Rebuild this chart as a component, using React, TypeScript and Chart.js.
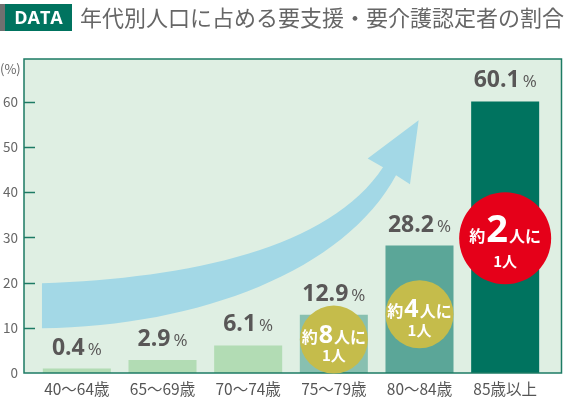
import React, { useEffect, useRef } from 'react';
import { Chart, registerables } from 'chart.js';
Chart.register(...registerables);

const titleTag = 'DATA';
const titleText = '年代別人口に占める要支援・要介護認定者の割合';
const categories = ['40〜64歳', '65〜69歳', '70〜74歳', '75〜79歳', '80〜84歳', '85歳以上'];
const values = [0.4, 2.9, 6.1, 12.9, 28.2, 60.1];
const barColors = ['#b2dcb4', '#b2dcb4', '#b2dcb4', '#88c0b0', '#5ba698', '#00735f'];
const yTicks = [0, 10, 20, 30, 40, 50, 60];
const yUnit = '(%)';
const calloutBar = [3, 4, 5];
const calloutValue = [7.4, 13.0, 29.8];
const calloutNumber = ['8', '4', '2'];
const calloutPre = '約';
const calloutPost = '人に';
const calloutLine2 = '1人';
const calloutColors = ['#c5bc4b', '#c5bc4b', '#e50019'];
// arrow outline in (category index, %) units
const arrowUpper = [[-0.407, 19.86], [1.321, 20.97], [2.955, 27.61], [3.574, 45.54]];
const arrowHead = [[3.395, 47.47], [3.99, 55.94], [3.889, 41.78]];
const arrowLower = [[3.726, 43.77], [3.13, 22.74], [1.438, 10.34], [-0.407, 9.9]];

const CJK = '"Noto Sans CJK JP", "Noto Sans", sans-serif';
const NUM = '"Open Sans", "Noto Sans", sans-serif';

const deco = {
  id: 'deco',
  beforeDraw(chart: any) {
    const { ctx } = chart;
    ctx.save();
    ctx.fillStyle = '#707070';
    ctx.fillRect(0, 4, 5, 27);
    ctx.fillStyle = '#00735f';
    ctx.fillRect(5, 4, 67, 27);
    ctx.fillStyle = '#ffffff';
    ctx.font = `bold 18px ${NUM}`;
    ctx.textAlign = 'center';
    ctx.textBaseline = 'middle';
    ctx.fillText(titleTag, 38.5, 18.5);
    ctx.fillStyle = '#666666';
    ctx.font = `22px ${CJK}`;
    ctx.textAlign = 'left';
    ctx.fillText(titleText, 80, 18);
    ctx.restore();
  },
  beforeDatasetsDraw(chart: any) {
    const { ctx, chartArea: a, scales } = chart;
    const x = scales.x, y = scales.y;
    const fl = a.left - 10, fr = a.right + 13.5;
    ctx.save();
    ctx.fillStyle = '#dfefe3';
    ctx.fillRect(fl, a.top, fr - fl, a.bottom - a.top);
    const P = (p: number[]) => [x.getPixelForValue(p[0]), y.getPixelForValue(p[1])];
    const u = arrowUpper.map(P), h = arrowHead.map(P), l = arrowLower.map(P);
    ctx.fillStyle = '#a3d8e6';
    ctx.beginPath();
    ctx.moveTo(u[0][0], u[0][1]);
    ctx.bezierCurveTo(u[1][0], u[1][1], u[2][0], u[2][1], u[3][0], u[3][1]);
    h.forEach((p) => ctx.lineTo(p[0], p[1]));
    ctx.lineTo(l[0][0], l[0][1]);
    ctx.bezierCurveTo(l[1][0], l[1][1], l[2][0], l[2][1], l[3][0], l[3][1]);
    ctx.closePath();
    ctx.fill();
    ctx.restore();
  },
  afterDatasetsDraw(chart: any) {
    const { ctx, chartArea: a, scales } = chart;
    const y = scales.y;
    const fl = a.left - 10, fr = a.right + 13.5;
    ctx.save();
    ctx.strokeStyle = '#1d7b64';
    ctx.lineWidth = 1.5;
    ctx.strokeRect(fl, a.top, fr - fl, a.bottom - a.top);
    yTicks.forEach((v) => {
      if (v === 0) return;
      const py = Math.round(y.getPixelForValue(v)) + 0.5;
      ctx.beginPath();
      ctx.moveTo(fl, py);
      ctx.lineTo(fl + 11, py);
      ctx.stroke();
    });
    ctx.fillStyle = '#666666';
    ctx.font = `13px ${CJK}`;
    ctx.textAlign = 'left';
    ctx.textBaseline = 'middle';
    ctx.fillText(yUnit, 0, a.top + 10);

    const meta = chart.getDatasetMeta(0);
    // value labels
    meta.data.forEach((el: any, i: number) => {
      const num = values[i].toFixed(1);
      ctx.font = `bold 23px ${NUM}`;
      const wn = ctx.measureText(num).width;
      ctx.font = `17px ${NUM}`;
      const wp = ctx.measureText('%').width;
      const gap = 3;
      const sx = el.x - (wn + gap + wp) / 2;
      const by = el.y - 14;
      ctx.textAlign = 'left';
      ctx.textBaseline = 'alphabetic';
      ctx.fillStyle = '#595757';
      ctx.font = `bold 23px ${NUM}`;
      ctx.fillText(num, sx, by);
      ctx.font = `17px ${NUM}`;
      ctx.fillText('%', sx + wn + gap, by);
    });
    // callouts
    calloutBar.forEach((bi, k) => {
      const el: any = meta.data[bi];
      const big = k === calloutBar.length - 1;
      const cx = el.x;
      const cy = y.getPixelForValue(calloutValue[k]);
      const r = big ? 46 : 34;
      ctx.fillStyle = calloutColors[k];
      ctx.beginPath();
      ctx.arc(cx, cy, r, 0, Math.PI * 2);
      ctx.fill();
      ctx.fillStyle = '#ffffff';
      const f1 = `bold 16px ${CJK}`;
      const f2 = `bold ${big ? 38 : 25}px ${NUM}`;
      ctx.font = f1;
      const w1 = ctx.measureText(calloutPre).width;
      const w3 = ctx.measureText(calloutPost).width;
      ctx.font = f2;
      const w2 = ctx.measureText(calloutNumber[k]).width;
      const g = 1;
      let sx = cx - (w1 + w2 + w3 + 2 * g) / 2;
      const by = cy + (big ? 4 : 3);
      ctx.textAlign = 'left';
      ctx.textBaseline = 'alphabetic';
      ctx.font = f1;
      ctx.fillText(calloutPre, sx, by);
      sx += w1 + g;
      ctx.font = f2;
      ctx.fillText(calloutNumber[k], sx, by);
      sx += w2 + g;
      ctx.font = f1;
      ctx.fillText(calloutPost, sx, by);
      ctx.font = `bold 15px ${CJK}`;
      ctx.textAlign = 'center';
      ctx.textBaseline = 'middle';
      ctx.fillText(calloutLine2, cx, cy + (big ? 23 : 16));
    });
    ctx.restore();
  },
};

export default function App() {
  const ref = useRef<HTMLCanvasElement>(null);
  useEffect(() => {
    if (!ref.current) return;
    const chart = new Chart(ref.current, {
      type: 'bar',
      data: {
        labels: categories,
        datasets: [
          {
            data: values,
            backgroundColor: barColors,
            barPercentage: 0.794,
            categoryPercentage: 1,
            minBarLength: 4.5,
          },
        ],
      },
      options: {
        responsive: false,
        animation: false,
        layout: { padding: { top: 59, right: 16, left: 0, bottom: 0 } },
        plugins: { legend: { display: false }, tooltip: { enabled: false }, title: { display: false } },
        scales: {
          x: {
            offset: true,
            grid: { display: false, drawTicks: false },
            border: { display: false },
            ticks: { color: '#555555', font: { family: CJK, size: 15.5 }, padding: 7, maxRotation: 0 },
            afterFit: (s: any) => { s.height = 27; },
          },
          y: {
            min: 0,
            max: 69.5,
            grid: { display: false, drawTicks: false },
            border: { display: false },
            ticks: { color: '#666666', font: { family: CJK, size: 13.5 }, padding: 16 },
            afterBuildTicks: (s: any) => { s.ticks = yTicks.map((v) => ({ value: v })); },
            afterFit: (s: any) => { s.width = 34; },
          },
        },
      },
      plugins: [deco],
    });
    return () => chart.destroy();
  }, []);
  return (
    <div style={{ position: 'absolute', left: 0, top: 0, width: 564, height: 400 }}>
      <canvas ref={ref} width={564} height={400} />
    </div>
  );
}
